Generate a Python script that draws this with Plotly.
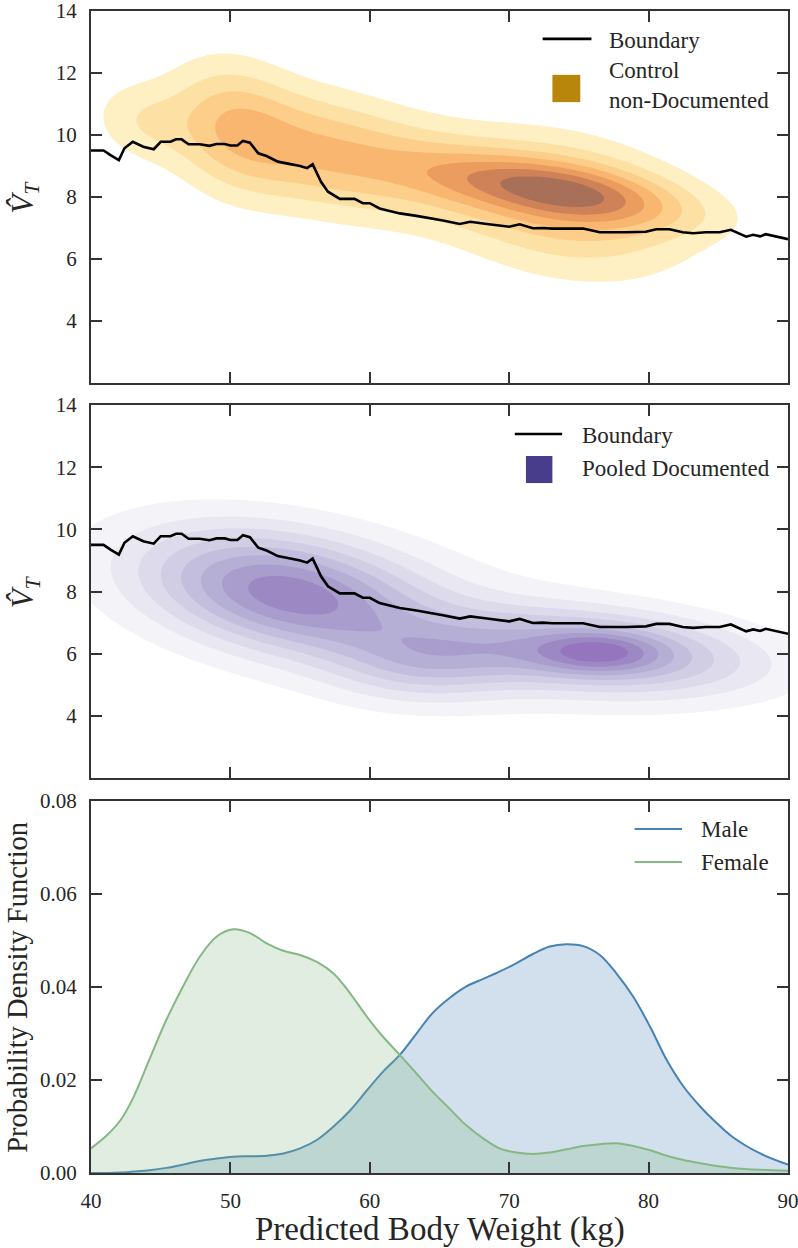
import numpy as np
import plotly.graph_objects as go

# ---------------- data ----------------
boundary_x = [40.0, 40.9, 41.4, 42.0, 42.4, 43.0, 43.75, 44.5, 45.0, 45.7, 46.1, 46.5, 47.0, 47.8,
              48.5, 49.0, 49.6, 50.0, 50.5, 50.9, 51.4, 52.0, 52.6, 53.4, 54.3, 55.0, 55.5, 55.9,
              56.5, 57.0, 57.85, 58.9, 59.5, 60.0, 60.7, 61.4, 62.15, 63.35, 64.5, 65.25, 66.45, 67.2,
              68.4, 70.0, 70.75, 71.7, 72.4, 73.1, 75.3, 76.5, 78.4, 79.8, 80.55, 81.5, 82.45,
              83.2, 84.1, 85.1, 85.9, 87.0, 87.5, 88.0, 88.4, 89.9, 90.0]
boundary_y = [9.5, 9.5, 9.35, 9.19, 9.57, 9.78, 9.62, 9.54, 9.78, 9.78, 9.86, 9.86, 9.7, 9.7,
              9.65, 9.71, 9.71, 9.66, 9.66, 9.81, 9.75, 9.41, 9.32, 9.14, 9.06, 9.0, 8.93, 9.06,
              8.49, 8.17, 7.94, 7.94, 7.8, 7.8, 7.63, 7.55, 7.47, 7.39, 7.31, 7.24, 7.13, 7.2,
              7.13, 7.04, 7.12, 6.99, 7.0, 6.98, 6.98, 6.86, 6.86, 6.88, 6.96, 6.96, 6.86,
              6.83, 6.86, 6.86, 6.94, 6.72, 6.78, 6.73, 6.8, 6.65, 6.64]

pdf_x = [40, 41.1, 42.1, 43.0, 44.2, 45.4, 46.6, 47.8, 49.0, 50.2, 51.4, 52.6, 53.8, 55.0,
         56.2, 57.4, 58.6, 59.8, 60.95, 62.15, 63.35, 64.5, 65.7, 66.9, 68.1, 69.3, 70.5,
         71.7, 72.9, 74.1, 75.3, 76.5, 77.7, 78.9, 80.1, 81.3, 82.5, 83.7, 84.9, 86.0, 88.0, 90]
female_pdf = [0.0053, 0.0080, 0.0113, 0.0160, 0.0245, 0.0329, 0.0401, 0.0465, 0.0508, 0.0524,
              0.0516, 0.0494, 0.0478, 0.0469, 0.0454, 0.0429, 0.0386, 0.0336, 0.0293, 0.0254,
              0.0214, 0.0175, 0.0139, 0.0103, 0.0075, 0.0053, 0.0044, 0.0041, 0.0044, 0.0051,
              0.0058, 0.0062, 0.0064, 0.0058, 0.0049, 0.0037, 0.0028, 0.0021, 0.0015, 0.0011,
              0.0007, 0.0005]
male_pdf = [0.0, 0.00002, 0.0001, 0.0003, 0.0006, 0.0011, 0.0018, 0.0026, 0.0031, 0.0035,
            0.0036, 0.0037, 0.0042, 0.0053, 0.0071, 0.01, 0.0135, 0.0178, 0.0218, 0.0254,
            0.03, 0.0344, 0.0376, 0.0401, 0.0417, 0.0433, 0.0451, 0.0471, 0.0487, 0.0492,
            0.0488, 0.0469, 0.0429, 0.0379, 0.0315, 0.0243, 0.0186, 0.0143, 0.0107, 0.0078,
            0.0042, 0.0018]

# density blobs estimated from the shaded contours: (x centre, y centre, x spread, y spread, tilt, height)
control_blobs = [(73.8, 8.2, 6.2, 0.65, -0.066, 0.55),
                 (73.8, 7.75, 6.2, 1.5, -0.066, 0.45),
                 (65.0, 8.7, 4.0, 1.0, -0.066, 0.17),
                 (57.0, 9.4, 5.0, 1.3, -0.07, 0.47),
                 (50.0, 10.3, 3.2, 1.45, -0.066, 0.38),
                 (43.5, 10.45, 2.5, 0.9, -0.05, 0.2)]
pooled_blobs = [(53.9, 7.97, 7.0, 1.3, -0.067, 0.78),
                (76.5, 6.05, 3.0, 0.45, 0.0, 0.3),
                (76.5, 6.05, 7.8, 0.9, -0.03, 0.65),
                (64.0, 5.65, 4.5, 0.85, 0.0, 0.3),
                (62.0, 7.1, 14.0, 1.9, -0.075, 0.15)]

control_colors = ['#fef0c3', '#fde1a4', '#fcce8a', '#f8b670', '#eb9c5f', '#cf8158', '#a97059']
pooled_colors = ['#f4f3f8', '#e9e7f2', '#dddbeb', '#d0cde5', '#c3bedd', '#b5aed5', '#a89dcc',
                 '#9c88c3', '#9575bd']

xt = [40, 50, 60, 70, 80, 90]
yt_v = [4, 6, 8, 10, 12, 14]
yt_p = [0.0, 0.02, 0.04, 0.06, 0.08]

# ---------------- helpers ----------------
gx = np.linspace(40, 90, 251)
gy = np.linspace(2, 14, 241)
GX, GY = np.meshgrid(gx, gy)


def surface(blobs):
    z = np.zeros_like(GX)
    for mx, my, sx, sy, k, a in blobs:
        yc = my + k * (GX - mx)
        z += a * np.exp(-0.5 * ((GX - mx) / sx) ** 2 - 0.5 * ((GY - yc) / sy) ** 2)
    return z / z.max()


def band_scale(colors):
    cols = ['rgba(255,255,255,0)'] + colors
    n = len(cols) - 1
    return [[i / n, c] for i, c in enumerate(cols)]


FONT = "Liberation Serif"
TXT = '#262626'
AX = '#333333'

fig = go.Figure()

# top panel
nC = len(control_colors)
fig.add_trace(go.Contour(x=gx, y=gy, z=surface(control_blobs), xaxis='x', yaxis='y',
                         autocontour=False,
                         contours=dict(start=1 / (nC + 1), end=nC / (nC + 1) + 1e-9,
                                       size=1 / (nC + 1), coloring='fill', showlines=False),
                         colorscale=band_scale(control_colors), showscale=False,
                         line=dict(width=0), hoverinfo='skip'))
fig.add_trace(go.Scatter(x=boundary_x, y=boundary_y, mode='lines', xaxis='x', yaxis='y',
                         line=dict(color='black', width=2.6), showlegend=False))

# middle panel
nP = len(pooled_colors)
fig.add_trace(go.Contour(x=gx, y=gy, z=surface(pooled_blobs), xaxis='x2', yaxis='y2',
                         autocontour=False,
                         contours=dict(start=1 / (nP + 1), end=nP / (nP + 1) + 1e-9,
                                       size=1 / (nP + 1), coloring='fill', showlines=False),
                         colorscale=band_scale(pooled_colors), showscale=False,
                         line=dict(width=0), hoverinfo='skip'))
fig.add_trace(go.Scatter(x=boundary_x, y=boundary_y, mode='lines', xaxis='x2', yaxis='y2',
                         line=dict(color='black', width=2.6), showlegend=False))

# bottom panel
fig.add_trace(go.Scatter(x=pdf_x, y=male_pdf, mode='lines', xaxis='x3', yaxis='y3',
                         line=dict(color='#4682b4', width=2, shape='spline', smoothing=1.0),
                         fill='tozeroy', fillcolor='rgba(70,130,180,0.25)', showlegend=False))
fig.add_trace(go.Scatter(x=pdf_x, y=female_pdf, mode='lines', xaxis='x3', yaxis='y3',
                         line=dict(color='#85b885', width=2, shape='spline', smoothing=1.0),
                         fill='tozeroy', fillcolor='rgba(133,184,133,0.25)', showlegend=False))

common = dict(showline=True, linecolor=AX, linewidth=2, mirror='ticks', ticks='inside',
              ticklen=11, tickwidth=1.8, tickcolor=AX, showgrid=False, zeroline=False,
              automargin=False, ticklabeloverflow='allow',
              tickfont=dict(family=FONT, size=21, color=TXT), ticklabelstandoff=8)

dom_top = [0.6799, 1.0]
dom_mid = [0.3399, 0.6609]
dom_bot = [0.0, 0.3201]

fig.update_layout(
    width=798, height=1248,
    margin=dict(l=91, r=10, t=11, b=75, autoexpand=False),
    paper_bgcolor='white', plot_bgcolor='white',
    showlegend=False,
    xaxis=dict(range=[40, 90], domain=[0, 1], anchor='y', tickvals=xt, showticklabels=False, **common),
    yaxis=dict(range=[2, 14], domain=dom_top, anchor='x', tickvals=yt_v, **common),
    xaxis2=dict(range=[40, 90], domain=[0, 1], anchor='y2', tickvals=xt, showticklabels=False, **common),
    yaxis2=dict(range=[2, 14], domain=dom_mid, anchor='x2', tickvals=yt_v, **common),
    xaxis3=dict(range=[40, 90], domain=[0, 1], anchor='y3', tickvals=xt, **common),
    yaxis3=dict(range=[0, 0.08], domain=dom_bot, anchor='x3', tickvals=yt_p, tickformat='.2f', **common),
)

# axis titles
ann = []
C = dict(xanchor='center', yanchor='middle', showarrow=False)
vt = "<i>V̂<sub>T</sub></i>"
for d in (dom_top, dom_mid):
    ann.append(dict(text=vt, xref='paper', yref='paper', x=-0.095, y=(d[0] + d[1]) / 2,
                    textangle=-90, font=dict(family=FONT, size=31, color=TXT), **C))
ann.append(dict(text="Probability Density Function", xref='paper', yref='paper', x=-0.1065,
                y=(dom_bot[0] + dom_bot[1]) / 2, textangle=-90,
                font=dict(family=FONT, size=28.5, color=TXT), **C))
ann.append(dict(text="Predicted Body Weight (kg)", xref='paper', yref='paper', x=0.5, y=-0.0482,
                font=dict(family=FONT, size=33, color=TXT), **C))

# legends (drawn in data coordinates of each panel)
LF = dict(family=FONT, size=23, color=TXT)
L = dict(xanchor='left', yanchor='middle', showarrow=False, align='left', font=LF)
shapes = []
shapes.append(dict(type='line', xref='x', yref='y', x0=72.4, x1=75.9, y0=13.1, y1=13.1,
                   line=dict(color='black', width=2.6)))
ann.append(dict(text="Boundary", xref='x', yref='y', x=77.0, y=13.05, **L))
shapes.append(dict(type='rect', xref='x', yref='y', x0=73.1, x1=75.1, y0=11.06, y1=11.94,
                   fillcolor='#b8860b', line=dict(width=0)))
ann.append(dict(text="Control<br>non-Documented", xref='x', yref='y', x=77.0, y=11.6, **L))

shapes.append(dict(type='line', xref='x2', yref='y2', x0=70.4, x1=73.8, y0=13.07, y1=13.07,
                   line=dict(color='black', width=2.6)))
ann.append(dict(text="Boundary", xref='x2', yref='y2', x=75.1, y=13.02, **L))
shapes.append(dict(type='rect', xref='x2', yref='y2', x0=71.2, x1=73.1, y0=11.49, y1=12.36,
                   fillcolor='#483d8b', line=dict(width=0)))
ann.append(dict(text="Pooled Documented", xref='x2', yref='y2', x=75.1, y=11.95, **L))

shapes.append(dict(type='line', xref='x3', yref='y3', x0=79.0, x1=82.4, y0=0.074, y1=0.074,
                   line=dict(color='#4682b4', width=2)))
ann.append(dict(text="Male", xref='x3', yref='y3', x=83.65, y=0.0738, **L))
shapes.append(dict(type='line', xref='x3', yref='y3', x0=79.0, x1=82.4, y0=0.0669, y1=0.0669,
                   line=dict(color='#85b885', width=2)))
ann.append(dict(text="Female", xref='x3', yref='y3', x=83.65, y=0.0667, **L))

fig.update_layout(annotations=ann, shapes=shapes)
# remove the browser's default 8 px page margin so the figure sits at the window origin
fig.write_html("out.html", config={'displayModeBar': False},
               post_script="document.body.style.margin='0';")
